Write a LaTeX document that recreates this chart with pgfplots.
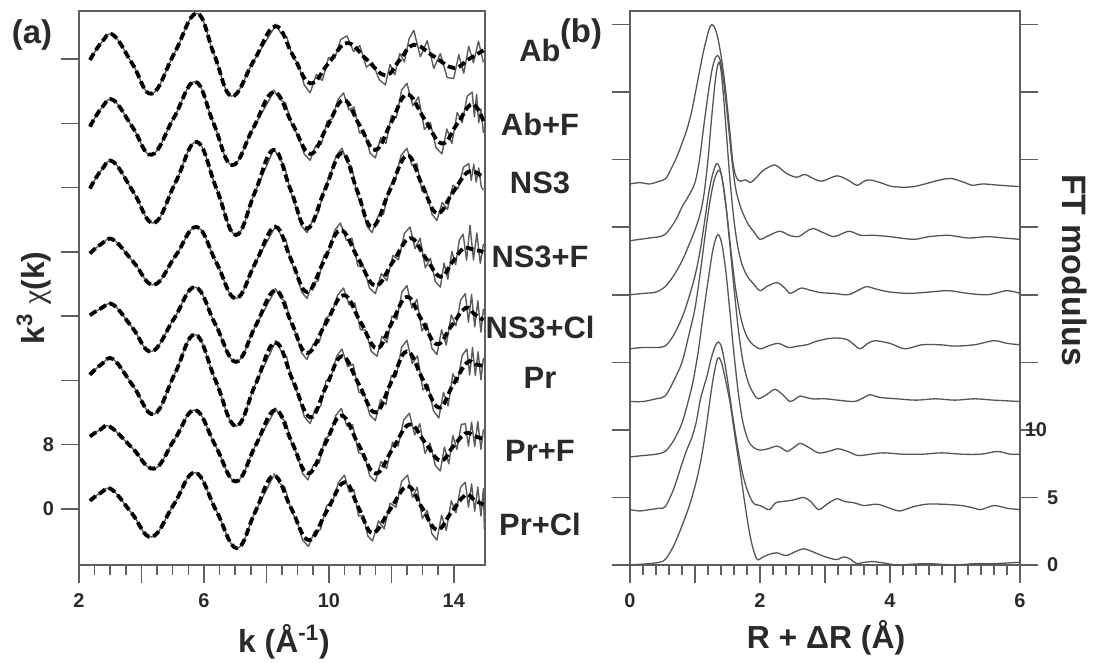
\documentclass[border=0pt]{standalone}
\usepackage{fontspec}
\setmainfont{Liberation Sans}
\newfontfamily\chifont{Liberation Serif}
\usepackage{pgfplots}
\usepackage{pgfplotstable}
\pgfplotsset{compat=1.18}
\definecolor{axgray}{HTML}{5E5E5E}
\definecolor{txt}{HTML}{2A2A2A}
\definecolor{datgray}{HTML}{5C5C5C}
\definecolor{ftgray}{HTML}{555555}

% ---------- panel (a): fits (relative to offset) ----------
\pgfplotstableread{
k v
2.35 -0.1
2.72 2.07
3.1 3.0
3.72 -0.65
4.33 -4.3
5.05 0.7
5.77 5.7
6.33 0.55
6.89 -4.6
7.59 -0.25
8.28 4.1
8.84 0.55
9.4 -3.0
9.99 -0.5
10.58 2.0
11.2 0.0
11.81 -2.0
12.27 -0.1
12.72 1.8
13.36 0.35
14.0 -1.1
14.48 0.0
14.95 1.1
}\fitAb
\pgfplotstableread{
k v
2.35 -0.4
2.72 1.9
3.1 2.9
3.72 -0.5
4.33 -3.9
5.03 0.65
5.72 5.2
6.31 0.0
6.9 -5.2
7.57 -0.65
8.23 3.9
8.82 0.05
9.4 -3.8
9.94 -0.45
10.47 2.9
10.98 -0.2
11.49 -3.3
12.0 0.15
12.5 3.6
13.06 0.55
13.62 -2.5
14.11 -0.05
14.59 2.4
14.95 0.3
}\fitAbF
\pgfplotstableread{
k v
2.35 -0.1
2.72 2.2
3.1 3.2
3.75 -0.6
4.4 -4.4
5.09 0.65
5.77 5.7
6.4 -0.1
7.02 -5.9
7.63 -0.6
8.23 4.7
8.77 -0.2
9.3 -5.1
9.86 -0.4
10.42 4.3
10.9 -0.3
11.38 -4.9
11.94 -0.45
12.5 4.0
12.98 0.4
13.46 -3.2
13.97 -0.6
14.48 2.0
14.95 1.2
}\fitNS
\pgfplotstableread{
k v
2.35 -0.2
2.72 1.0
3.1 1.5
3.75 -1.3
4.4 -4.1
5.09 -0.5
5.77 3.1
6.4 -1.35
7.02 -5.8
7.65 -1.35
8.28 3.1
8.79 -0.95
9.3 -5.0
9.84 -1.15
10.37 2.7
10.93 -0.75
11.49 -4.2
12.05 -1.25
12.6 1.7
13.09 -0.7
13.57 -3.1
13.94 -1.35
14.3 0.4
14.62 0.3
14.95 0.0
}\fitNSF
\pgfplotstableread{
k v
2.35 0.1
2.72 1.0
3.1 1.4
3.72 -1.5
4.33 -4.4
5.03 -0.4
5.72 3.6
6.37 -1.05
7.02 -5.7
7.65 -1.25
8.28 3.2
8.79 -0.7
9.3 -4.6
9.89 -1.0
10.47 2.6
11.01 -0.7
11.54 -4.0
12.02 -0.8
12.5 2.4
12.98 -0.55
13.46 -3.5
13.92 -1.25
14.37 1.0
14.66 0.25
14.95 -0.5
}\fitNSCl
\pgfplotstableread{
k v
2.35 0.7
2.72 2.0
3.1 2.6
3.75 -0.8
4.4 -4.2
5.06 0.75
5.72 5.7
6.37 0.0
7.02 -5.7
7.65 -0.5
8.28 4.7
8.84 0.05
9.4 -4.6
9.91 -0.8
10.42 3.0
10.96 -0.5
11.49 -4.0
12.0 -0.2
12.5 3.6
13.01 0.1
13.52 -3.4
13.97 -0.6
14.42 2.2
14.69 2.0
14.95 1.8
}\fitPr
\pgfplotstableread{
k v
2.35 1.0
2.68 1.85
3.0 2.2
3.7 -0.4
4.4 -3.0
5.06 0.65
5.72 4.3
6.37 -0.15
7.02 -4.6
7.65 -0.15
8.28 4.3
8.81 0.35
9.33 -3.6
9.87 0.0
10.4 3.6
10.95 0.0
11.49 -3.6
12.04 -0.55
12.58 2.5
13.08 0.25
13.57 -2.0
13.97 -0.3
14.37 1.4
14.66 1.05
14.95 0.7
}\fitPrF
\pgfplotstableread{
k v
2.35 1.0
2.7 2.0
3.05 2.4
3.69 -0.55
4.33 -3.5
5.03 0.5
5.72 4.5
6.39 -0.2
7.05 -4.9
7.64 -0.4
8.23 4.1
8.79 0.1
9.35 -3.9
9.93 -0.3
10.5 3.3
10.95 0.15
11.4 -3.0
11.96 -0.1
12.52 2.8
12.99 0.1
13.46 -2.6
13.92 -0.45
14.37 1.7
14.66 1.1
14.95 0.5
}\fitPrCl

% ---------- panel (a): noisy data at high k (relative) ----------
\pgfplotstableread{
k v
8.28 4.4
8.47 3.2
8.65 2.8
8.84 0.25
9.03 -0.6
9.21 -3.2
9.4 -4.2
9.6 -1.9
9.79 -2.65
9.99 0.2
10.19 0.15
10.38 2.45
10.58 2.9
10.79 0.95
10.99 1.7
11.2 -1.0
11.4 -0.4
11.61 -2.55
11.81 -3.2
11.96 -0.65
12.11 -1.95
12.27 0.7
12.42 -0.35
12.57 2.55
12.72 3.6
12.93 0.3
13.15 2.3
13.36 -1.15
13.57 0.7
13.79 -2.3
14.0 -2.4
14.16 0.55
14.32 -1.75
14.48 1.6
14.63 -0.45
14.79 2.25
14.95 -0.4
}\datAb
\pgfplotstableread{
k v
8.23 4.2
8.43 3.0
8.62 2.5
8.82 -0.25
9.01 -1.5
9.21 -3.8
9.4 -4.6
9.58 -2.75
9.76 -2.6
9.94 0.25
10.11 0.6
10.29 2.95
10.47 3.8
10.64 1.7
10.81 2.05
10.98 -1.2
11.15 -1.15
11.32 -3.7
11.49 -4.3
11.66 -1.75
11.83 -2.5
12.0 0.95
12.16 0.7
12.33 4.15
12.5 5.0
12.69 2.2
12.87 3.3
13.06 -0.75
13.25 0.1
13.43 -3.0
13.62 -3.8
13.78 -0.7
13.94 -2.5
14.11 1.35
14.27 0.1
14.43 3.4
14.59 3.9
14.66 0.8
14.73 3.6
14.8 0.1
14.87 1.8
14.95 -1.2
}\datAbF
\pgfplotstableread{
k v
8.23 4.9
8.41 3.75
8.59 2.55
8.77 -0.4
8.94 -2.35
9.12 -4.75
9.3 -5.6
9.49 -4.05
9.67 -3.05
9.86 0.0
10.05 1.55
10.23 3.95
10.42 4.9
10.58 3.2
10.74 2.5
10.9 -0.9
11.06 -2.2
11.22 -4.8
11.38 -5.6
11.57 -3.6
11.75 -3.3
11.94 0.05
12.13 1.0
12.31 4.0
12.5 4.9
12.66 2.8
12.82 3.0
12.98 -0.4
13.14 -0.7
13.3 -3.3
13.46 -4.1
13.63 -1.85
13.8 -2.7
13.97 0.3
14.14 -0.1
14.31 2.55
14.48 3.0
14.56 0.9
14.64 2.9
14.72 0.7
14.8 2.45
14.88 0.1
14.95 -0.3
}\datNS
\pgfplotstableread{
k v
8.28 3.4
8.45 2.2
8.62 1.6
8.79 -1.25
8.96 -2.6
9.13 -5.0
9.3 -5.8
9.48 -3.9
9.66 -3.6
9.84 -0.45
10.01 0.2
10.19 2.7
10.37 3.6
10.56 1.45
10.74 1.7
10.93 -1.75
11.12 -1.9
11.3 -4.5
11.49 -5.2
11.68 -2.7
11.86 -3.6
12.05 -0.45
12.23 -1.0
12.42 2.3
12.6 3.1
12.76 0.4
12.92 1.7
13.09 -2.0
13.25 -0.8
13.41 -3.7
13.57 -4.4
13.69 -1.4
13.81 -3.4
13.94 0.05
14.06 -1.6
14.18 1.5
14.3 2.2
14.41 -1.05
14.52 3.3
14.63 -1.0
14.74 2.35
14.85 -1.45
14.95 1.0
}\datNSF
\pgfplotstableread{
k v
8.28 3.5
8.45 2.3
8.62 1.75
8.79 -1.0
8.96 -2.25
9.13 -4.6
9.3 -5.4
9.5 -3.5
9.69 -3.3
9.89 -0.3
10.08 0.2
10.28 2.6
10.47 3.5
10.65 1.4
10.83 1.65
11.01 -1.7
11.18 -1.75
11.36 -4.4
11.54 -5.0
11.7 -2.5
11.86 -3.3
12.02 0.0
12.18 -0.4
12.34 3.0
12.5 3.8
12.66 1.0
12.82 2.1
12.98 -1.85
13.14 -0.9
13.3 -4.0
13.46 -4.8
13.61 -1.7
13.76 -3.6
13.92 0.15
14.07 -1.2
14.22 2.0
14.37 2.8
14.47 -0.75
14.57 2.7
14.67 -1.35
14.77 1.9
14.87 -2.0
14.95 0.9
}\datNSCl
\pgfplotstableread{
k v
8.28 5.0
8.47 3.7
8.65 2.9
8.84 -0.25
9.03 -1.9
9.21 -4.5
9.4 -5.4
9.57 -3.5
9.74 -3.2
9.91 -0.1
10.08 0.5
10.25 3.0
10.42 3.9
10.6 1.7
10.78 2.0
10.96 -1.5
11.13 -1.65
11.31 -4.3
11.49 -5.0
11.66 -2.4
11.83 -3.0
12.0 0.6
12.16 0.5
12.33 4.1
12.5 5.0
12.67 2.1
12.84 3.05
13.01 -1.2
13.18 -0.55
13.35 -3.8
13.52 -4.7
13.67 -1.5
13.82 -3.2
13.97 0.8
14.12 -0.3
14.27 3.1
14.42 3.9
14.51 0.65
14.6 4.1
14.69 0.6
14.78 3.55
14.87 0.05
14.95 2.8
}\datPr
\pgfplotstableread{
k v
8.28 4.6
8.46 3.4
8.63 2.8
8.81 0.1
8.98 -1.2
9.16 -3.6
9.33 -4.4
9.51 -2.5
9.69 -2.3
9.87 0.7
10.04 1.2
10.22 3.6
10.4 4.5
10.58 2.3
10.76 2.5
10.95 -1.0
11.13 -1.2
11.31 -3.9
11.49 -4.6
11.67 -2.1
11.85 -3.0
12.04 0.3
12.22 -0.2
12.4 3.1
12.58 3.9
12.75 1.2
12.91 2.6
13.08 -1.1
13.24 0.2
13.41 -2.6
13.57 -3.3
13.7 -0.3
13.84 -2.4
13.97 1.1
14.1 -0.6
14.24 2.5
14.37 2.6
14.47 -0.2
14.57 2.8
14.67 -0.25
14.77 2.85
14.87 -0.6
14.95 1.9
}\datPrF
\pgfplotstableread{
k v
8.23 4.4
8.42 3.2
8.6 2.6
8.79 -0.2
8.98 -1.5
9.16 -3.9
9.35 -4.7
9.54 -2.8
9.73 -2.6
9.93 0.4
10.12 0.9
10.31 3.3
10.5 4.2
10.65 2.1
10.8 2.4
10.95 -0.9
11.1 -0.8
11.25 -3.4
11.4 -4.0
11.59 -1.5
11.77 -2.5
11.96 0.7
12.15 0.2
12.33 3.4
12.52 4.2
12.68 1.4
12.83 2.7
12.99 -1.2
13.15 -0.2
13.3 -3.1
13.46 -3.9
13.61 -0.8
13.76 -2.7
13.92 1.0
14.07 -0.5
14.22 2.7
14.37 3.3
14.47 0.2
14.57 3.1
14.67 -0.3
14.77 2.7
14.87 -0.9
14.95 2.5
14.98 -2.5
}\datPrCl

% ---------- panel (b): FT moduli (absolute, stacked) ----------
\pgfplotstableread{
R v
0 28.2
0.15 28.3
0.3 28.2
0.45 28.4
0.55 28.6
0.64 29.4
0.72 30.2
0.8 31.2
0.88 32.3
0.95 33.6
1.02 35.3
1.08 36.8
1.13 38.0
1.18 39.0
1.22 39.7
1.26 40.0
1.31 39.7
1.36 38.8
1.41 37.4
1.46 35.6
1.5 33.8
1.54 31.9
1.58 29.9
1.62 28.9
1.66 28.5
1.7 28.4
1.78 28.5
1.85 28.3
1.93 28.6
2.05 29.2
2.23 29.6
2.4 29.0
2.56 28.7
2.69 28.9
2.82 28.6
2.95 28.4
3.18 28.8
3.35 28.5
3.49 28.1
3.6 28.4
3.69 28.5
3.85 28.3
4.05 28.0
4.36 28.0
4.77 28.5
4.95 28.6
5.15 28.3
5.27 28.1
5.43 28.2
5.7 28.1
6.0 28.0
}\ftAb
\pgfplotstableread{
R v
0 24.0
0.15 24.1
0.3 24.2
0.45 24.3
0.55 24.5
0.7 25.5
0.8 26.5
0.9 27.3
1.0 28.3
1.07 30.0
1.13 32.3
1.2 34.8
1.26 36.6
1.31 37.5
1.35 37.7
1.39 37.3
1.44 35.8
1.5 33.2
1.56 30.3
1.62 28.0
1.68 26.8
1.74 26.0
1.82 25.2
1.9 24.7
2.0 24.1
2.1 24.3
2.3 24.7
2.45 24.4
2.59 24.3
2.72 24.7
2.82 24.9
2.97 24.6
3.13 24.3
3.25 24.5
3.38 24.7
3.55 24.4
3.75 24.4
4.0 24.3
4.36 24.1
4.6 24.3
4.9 24.4
5.2 24.2
5.5 24.3
5.75 24.2
6.0 24.1
}\ftAbF
\pgfplotstableread{
R v
0 20.0
0.2 20.1
0.4 20.2
0.54 20.6
0.67 21.4
0.8 22.5
0.9 23.6
1.0 24.8
1.08 26.0
1.14 27.5
1.2 30.0
1.25 32.8
1.3 35.3
1.34 36.8
1.37 37.2
1.4 36.6
1.44 34.6
1.49 31.5
1.54 28.4
1.6 25.5
1.66 23.5
1.72 22.3
1.8 21.4
1.9 20.8
2.0 20.3
2.1 20.6
2.26 20.9
2.38 20.5
2.46 20.1
2.55 20.3
2.64 20.5
2.8 20.3
2.95 20.15
3.13 20.1
3.35 20.0
3.5 20.3
3.64 20.6
3.8 20.4
4.0 20.2
4.3 20.1
4.6 20.2
4.9 20.3
5.2 20.1
5.5 20.0
5.8 20.3
6.0 20.1
}\ftNS
\pgfplotstableread{
R v
0 16.0
0.2 16.1
0.4 16.1
0.54 16.2
0.67 17.0
0.8 18.3
0.9 19.7
1.0 21.4
1.08 23.3
1.15 25.5
1.21 27.5
1.27 28.9
1.33 29.7
1.38 29.4
1.43 28.2
1.49 26.0
1.55 23.4
1.62 20.6
1.7 18.4
1.78 17.1
1.87 16.4
2.0 16.0
2.12 16.2
2.28 16.4
2.44 16.1
2.58 16.2
2.72 16.3
2.9 16.6
3.13 16.8
3.33 16.7
3.45 16.3
3.54 16.0
3.66 16.4
3.77 16.6
4.0 16.4
4.23 16.0
4.49 16.3
4.77 16.3
5.0 16.2
5.3 16.3
5.6 16.6
5.8 16.4
6.0 16.3
}\ftNSF
\pgfplotstableread{
R v
0 12.1
0.2 12.1
0.4 12.3
0.54 12.5
0.67 13.6
0.8 15.0
0.9 16.9
1.0 19.0
1.08 21.6
1.15 24.2
1.22 26.6
1.29 28.4
1.36 29.2
1.41 28.8
1.47 26.9
1.53 24.0
1.6 20.5
1.67 17.3
1.74 15.0
1.82 13.5
1.9 12.7
1.97 12.3
2.1 12.6
2.23 13.0
2.35 12.6
2.46 12.1
2.55 12.3
2.62 12.5
2.8 12.3
3.0 12.3
3.2 12.2
3.45 12.1
3.6 12.4
3.69 12.6
3.85 12.4
4.1 12.3
4.4 12.2
4.7 12.3
5.0 12.2
5.3 12.3
5.6 12.2
6.0 12.1
}\ftNSCl
\pgfplotstableread{
R v
0 8.0
0.2 8.1
0.4 8.2
0.54 8.4
0.67 9.2
0.8 10.5
0.9 12.2
0.97 13.6
1.05 15.8
1.12 18.3
1.2 21.0
1.27 23.2
1.33 24.3
1.37 24.4
1.42 23.6
1.48 21.5
1.54 18.6
1.6 15.6
1.67 12.6
1.74 10.5
1.82 9.2
1.9 8.7
2.0 8.5
2.12 8.6
2.26 8.8
2.35 8.6
2.42 8.4
2.52 8.7
2.62 9.0
2.75 8.7
2.9 8.3
3.05 8.4
3.2 8.6
3.35 8.4
3.51 8.1
3.7 8.2
3.9 8.3
4.2 8.2
4.5 8.2
4.8 8.3
5.1 8.2
5.4 8.2
5.65 8.4
5.85 8.2
6.0 8.2
}\ftPr
\pgfplotstableread{
R v
0 4.1
0.15 4.0
0.3 4.1
0.45 4.2
0.54 4.3
0.67 5.6
0.8 7.5
0.88 8.6
0.95 9.4
1.02 10.6
1.08 12.2
1.13 13.1
1.18 13.9
1.25 15.3
1.31 16.2
1.36 16.5
1.41 16.1
1.47 14.6
1.53 12.7
1.59 10.7
1.66 8.6
1.73 6.8
1.8 5.6
1.87 4.8
1.92 4.5
2.0 4.4
2.08 4.2
2.15 4.1
2.24 4.6
2.35 4.7
2.5 4.8
2.67 5.0
2.78 4.7
2.9 4.1
3.03 4.5
3.18 4.9
3.3 4.7
3.45 4.6
3.6 4.4
3.8 4.5
4.0 4.2
4.15 4.0
4.35 4.3
4.56 4.5
4.8 4.5
5.1 4.4
5.3 4.2
5.4 4.1
5.6 4.4
5.8 4.2
6.0 4.1
}\ftPrF
\pgfplotstableread{
R v
0 0.0
0.15 0.05
0.3 0.1
0.45 0.2
0.54 0.4
0.67 1.4
0.8 2.9
0.9 4.2
0.97 5.3
1.04 6.6
1.1 8.0
1.17 10.1
1.23 12.2
1.29 14.1
1.35 15.3
1.4 15.1
1.46 13.9
1.54 12.0
1.6 10.0
1.65 8.4
1.7 6.8
1.75 5.1
1.8 3.5
1.85 2.1
1.9 1.1
1.96 0.4
2.05 0.6
2.15 0.8
2.26 0.9
2.4 0.7
2.55 1.0
2.67 1.2
2.8 1.0
2.95 0.7
3.08 0.5
3.18 0.4
3.3 0.6
3.4 0.4
3.49 0.1
3.6 0.2
3.75 0.25
3.9 0.15
4.1 0.0
4.3 0.05
4.6 0.1
5.0 0.0
5.3 0.1
5.6 0.1
6.0 0.2
}\ftPrCl

\pgfplotsset{
  panel/.style={
    scale only axis, height=277bp,
    enlargelimits=false,
    axis line style={draw=axgray, line width=0.75bp},
    every tick/.style={draw=axgray, line width=0.75bp},
    tick align=outside,
    major tick length=9bp, minor tick length=5bp,
    ticklabel style={font=\fontsize{10}{12}\selectfont\bfseries, text=txt},
    /pgf/number format/assume math mode=true,
  },
  fitline/.style={black, line width=1.9bp, dash pattern=on 3.8bp off 1.9bp, smooth, tension=0.7},
  datline/.style={datgray, line width=0.7bp, line join=round},
  datsmooth/.style={datgray, line width=0.7bp, smooth, tension=0.7, restrict x to domain=2:8.4},
  ftline/.style={ftgray, line width=0.65bp, smooth, tension=0.5},
}

\begin{document}
\begin{tikzpicture}
\begin{axis}[panel,
  at={(0bp,0bp)}, anchor=south west, width=203bp,
  xmin=2, xmax=15, ymin=-7, ymax=62,
  xtick={2,4,...,14}, xticklabels={2,,6,,10,,14},
  minor x tick num=3,
  ytick={0,8,16,24,32,40,48,56}, yticklabels={0,8,,,,,,},
  xtick pos=left, ytick pos=left,
  xticklabel style={yshift=-2bp},
]
\foreach \f/\d/\o in {Ab/Ab/56, AbF/AbF/48, NS/NS/40, NSF/NSF/32, NSCl/NSCl/24, Pr/Pr/16, PrF/PrF/8, PrCl/PrCl/0}{
  \edef\temp{\noexpand\addplot[datsmooth] table[x index=0, y expr=\noexpand\thisrowno{1}+\o] {\expandafter\noexpand\csname fit\f\endcsname};
  \noexpand\addplot[datline] table[x index=0, y expr=\noexpand\thisrowno{1}+\o] {\expandafter\noexpand\csname dat\d\endcsname};
  \noexpand\addplot[fitline] table[x index=0, y expr=\noexpand\thisrowno{1}+\o] {\expandafter\noexpand\csname fit\f\endcsname};}
  \temp
}
\end{axis}

\begin{axis}[panel,
  at={(275.5bp,0bp)}, anchor=south west, width=195bp,
  xmin=0, xmax=6, ymin=0, ymax=41,
  xtick={0,1,...,6}, xticklabels={0,,2,,4,,6},
  minor x tick num=4,
  ytick={0,5,...,40}, yticklabels={0,5,\llap{10},,,,,,},
  xtick pos=left, ytick pos=both, yticklabel pos=right,
  xticklabel style={yshift=-2bp},
  yticklabel style={anchor=west, xshift=1bp},
]
\addplot[ftline] table[x index=0, y index=1] {\ftAb};
\addplot[ftline] table[x index=0, y index=1] {\ftAbF};
\addplot[ftline] table[x index=0, y index=1] {\ftNS};
\addplot[ftline] table[x index=0, y index=1] {\ftNSF};
\addplot[ftline] table[x index=0, y index=1] {\ftNSCl};
\addplot[ftline] table[x index=0, y index=1] {\ftPr};
\addplot[ftline] table[x index=0, y index=1] {\ftPrF};
\addplot[ftline] table[x index=0, y index=1] {\ftPrCl};
\end{axis}

% labels
\begin{scope}[every node/.style={text=txt, font=\bfseries, inner sep=0pt}]
\node[font=\fontsize{16.5}{18}\selectfont\bfseries] at (-23.5bp,265bp) {(a)};
\node[font=\fontsize{16.5}{18}\selectfont\bfseries] at (251bp,265.5bp) {(b)};
\node[font=\fontsize{16}{18}\selectfont\bfseries] at (102.5bp,-38.5bp) {k (Å\textsuperscript{-1})};
\node[font=\fontsize{16}{18}\selectfont\bfseries] at (373.5bp,-36.5bp) {R + ΔR (Å)};
\node[font=\fontsize{16}{18}\selectfont\bfseries, rotate=90] at (-22.5bp,133.5bp) {k\textsuperscript{3} {\chifont\mdseries χ}(k)};
\node[font=\fontsize{17}{19}\selectfont\bfseries, rotate=-90] at (498bp,147.5bp) {FT modulus};
\foreach \y/\t in {257.5/Ab, 220.5/Ab+F, 191/NS3, 154/NS3+F, 119/NS3+Cl, 93.5/Pr, 57/Pr+F, 20.5/Pr+Cl}{
  \node[font=\fontsize{15.5}{18}\selectfont\bfseries] at (230.5bp,\y bp) {\t};
}
\end{scope}
\pgfresetboundingbox
\useasboundingbox (-39.5bp,-49bp) rectangle (507bp,282.5bp);
\end{tikzpicture}
\end{document}
